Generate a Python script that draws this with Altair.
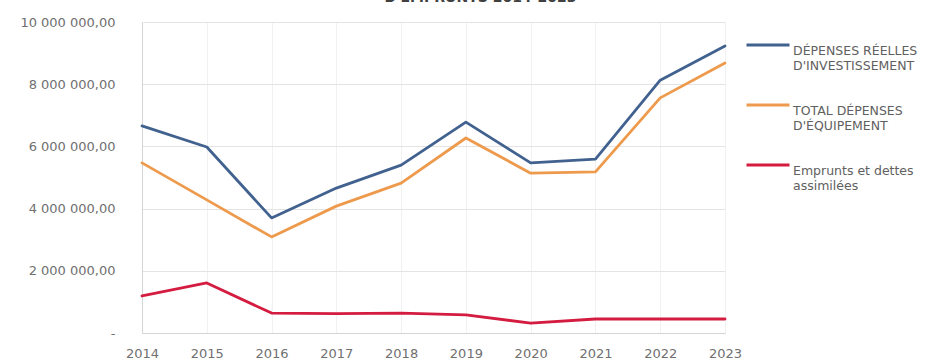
import json
import altair as alt
import pandas as pd

years = ["2014", "2015", "2016", "2017", "2018", "2019", "2020", "2021", "2022", "2023"]
depenses_reelles = [6.66e6, 5.98e6, 3.70e6, 4.66e6, 5.40e6, 6.78e6, 5.47e6, 5.59e6, 8.13e6, 9.23e6]
total_equipement = [5.47e6, 4.28e6, 3.09e6, 4.08e6, 4.82e6, 6.27e6, 5.14e6, 5.18e6, 7.56e6, 8.68e6]
emprunts = [1.19e6, 1.61e6, 0.64e6, 0.62e6, 0.64e6, 0.58e6, 0.32e6, 0.45e6, 0.45e6, 0.45e6]

series_names = [
    "DÉPENSES RÉELLES D'INVESTISSEMENT",
    "TOTAL DÉPENSES D'ÉQUIPEMENT",
    "Emprunts et dettes assimilées",
]
legend_lines = [
    ["DÉPENSES RÉELLES", "D'INVESTISSEMENT"],
    ["TOTAL DÉPENSES", "D'ÉQUIPEMENT"],
    ["Emprunts et dettes", "assimilées"],
]
series_colors = ["#41618f", "#ee9a4d", "#d41c40"]
title_text = "D'EMPRUNTS 2014-2023"

rows = []
for name, vals in zip(series_names, [depenses_reelles, total_equipement, emprunts]):
    for y, v in zip(years, vals):
        rows.append({"Année": y, "Montant": v, "Série": name})
df = pd.DataFrame(rows)

label_expr = ""
for name, lines in zip(series_names, legend_lines):
    label_expr += f"datum.label == {json.dumps(name, ensure_ascii=False)} ? {json.dumps(lines, ensure_ascii=False)} : "
label_expr += "datum.label"

y_label_expr = (
    "datum.value == 0 ? '-\u00a0\u00a0\u00a0' : "
    "replace(replace(format(datum.value, ',.2f'), regexp(',', 'g'), ' '), '.', ',')"
)

font = "DejaVu Sans"
text_color = "#707070"

chart = (
    alt.Chart(df)
    .mark_line(strokeWidth=2.8, strokeCap="round", strokeJoin="round")
    .encode(
        x=alt.X(
            "Année:N",
            sort=years,
            scale=alt.Scale(type="point", padding=0),
            axis=alt.Axis(
                title=None,
                labelAngle=0,
                labelFont=font,
                labelFontSize=13,
                labelColor=text_color,
                labelPadding=14,
                labelBaseline="top",
                ticks=False,
                grid=True,
                gridColor="#f1f1f1",
                domainColor="#d4d4d4",
                domainWidth=1,
            ),
        ),
        y=alt.Y(
            "Montant:Q",
            scale=alt.Scale(domain=[0, 10_000_000], nice=False),
            axis=alt.Axis(
                title=None,
                values=[0, 2e6, 4e6, 6e6, 8e6, 10e6],
                labelExpr=y_label_expr,
                labelFont=font,
                labelFontSize=13,
                labelColor=text_color,
                labelPadding=27,
                ticks=False,
                grid=True,
                gridColor="#e4e4e4",
                domainColor="#d4d4d4",
            ),
        ),
        color=alt.Color(
            "Série:N",
            sort=series_names,
            scale=alt.Scale(domain=series_names, range=series_colors),
            legend=alt.Legend(
                title=None,
                orient="none",
                legendX=603,
                legendY=0,
                symbolType="stroke",
                symbolSize=1849,
                symbolStrokeWidth=3,
                labelExpr=label_expr,
                labelFont=font,
                labelFontSize=12.5,
                labelColor="#606060",
                labelLimit=0,
                labelOffset=2,
                labelBaseline="top",
                rowPadding=10,
                padding=0,
            ),
        ),
    )
    .properties(
        width=583,
        height=311,
        padding={"left": 142, "top": 22, "right": 200, "bottom": 26},
        autosize=alt.AutoSizeParams(type="none"),
        title=alt.TitleParams(
            title_text,
            fontSize=14,
            fontWeight="bold",
            font=font,
            color="#404040",
            anchor="middle",
            dx=47,
            baseline="alphabetic",
            offset=0,
        ),
    )
    .configure_view(stroke=None)
)

chart.save("out.html", embed_options={"renderer": "svg", "actions": False})
